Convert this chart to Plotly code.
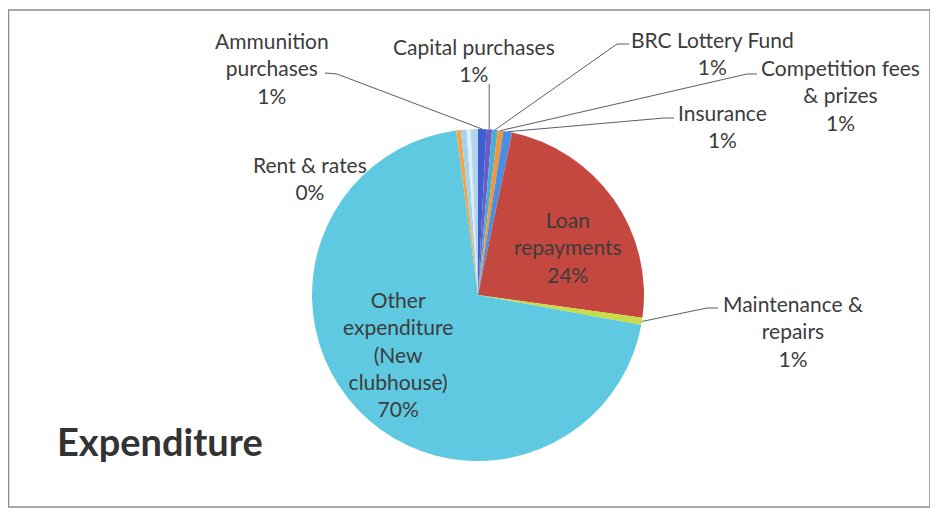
import math
import plotly.graph_objects as go

# ---------------- data ----------------
labels = [
    "Ammunition purchases", "Capital purchases", "BRC Lottery Fund",
    "Competition fees & prizes", "Insurance", "Loan repayments",
    "Maintenance & repairs", "Other expenditure (New clubhouse)",
    "Unlabelled item A", "Unlabelled item B", "Rent & rates", "Unlabelled item C",
]
values = [0.8, 0.55, 0.55, 0.55, 0.85, 23.9, 0.7, 70.0, 0.45, 0.55, 0.4, 0.7]
pct_text = ["1%", "1%", "1%", "1%", "1%", "24%", "1%", "70%", "", "", "0%", ""]
colors = [
    "#3f5fcf", "#6d5cc8", "#4aaed0", "#f2963c", "#4a8ee2", "#c4483f",
    "#c8dc48", "#5ec9e1", "#f4a448", "#9fd4ee", "#e2ecf4", "#b2d4ef",
]

# ---------------- layout helpers ----------------
# The page places the figure 8px in from the window's top-left corner,
# so the figure is sized to fill the rest of the 938x511 window.
OFF = 8
W, H = 938 - OFF, 511 - OFF
CX, CY, R = 478, 295, 166          # pie centre / radius in window pixels
FONT = "Lato"
TXT = "#3c3c3c"


def px(x):
    return (x - OFF) / W


def py(y):
    return 1 - (y - OFF) / H


total = sum(values)
cum = []
acc = 0.0
for v in values:
    cum.append(acc)
    acc += v


def edge_point(i):
    """Window-pixel point on the pie rim at the middle of slice i (clockwise from 12 o'clock)."""
    frac = (cum[i] + values[i] / 2) / total
    th = 2 * math.pi * frac
    return CX + R * math.sin(th), CY - R * math.cos(th)


fig = go.Figure()
fig.add_trace(go.Pie(
    labels=labels,
    values=values,
    sort=False,
    direction="clockwise",
    rotation=0,
    marker=dict(colors=colors, line=dict(width=0)),
    textinfo="none",
    hoverinfo="label+percent",
    showlegend=False,
    domain=dict(x=[px(CX - R), px(CX + R)], y=[py(CY + R), py(CY - R)]),
))

# label blocks: (slice index, lines, centre x, centre y of block)
label_blocks = [
    (0, ["Ammunition", "purchases", pct_text[0]], 272, 68),
    (1, ["Capital purchases", pct_text[1]], 474, 60),
    (2, ["BRC Lottery Fund", pct_text[2]], 712, 53),
    (3, ["Competition fees", "& prizes", pct_text[3]], 840, 95),
    (4, ["Insurance", pct_text[4]], 722, 126),
    (5, ["Loan", "repayments", pct_text[5]], 568, 247),
    (6, ["Maintenance &", "repairs", pct_text[6]], 793, 331),
    (7, ["Other", "expenditure", "(New", "clubhouse)", pct_text[7]], 398, 354),
    (10, ["Rent & rates", pct_text[10]], 310, 178),
]

annotations = []
for idx, lines, x, y in label_blocks:
    annotations.append(dict(
        x=px(x), y=py(y), xref="paper", yref="paper",
        text="<br>".join(lines), showarrow=False,
        xanchor="center", yanchor="middle", align="center",
        font=dict(family=FONT, size=21, color=TXT),
    ))

annotations.append(dict(
    x=px(55), y=py(441), xref="paper", yref="paper",
    text="<b>Expenditure</b>", showarrow=False,
    xanchor="left", yanchor="middle",
    font=dict(family=FONT, size=38, color="#333333"),
))

# leader lines: (slice index, start point, elbow point) in window pixels
leaders = [
    (0, (325, 73), (337, 74)),
    (1, None, None),
    (2, (629, 44), (617, 44)),
    (3, (757, 74), (747, 74)),
    (4, (674, 118), (664, 118)),
    (6, (718, 308), (707, 308)),
]

shapes = []
LINE = dict(color="#55606e", width=1)
for idx, p0, p1 in leaders:
    ex, ey = edge_point(idx)
    if p0 is None:
        path = f"M {px(ex)},{py(84)} L {px(ex)},{py(ey)}"
    else:
        path = (f"M {px(p0[0])},{py(p0[1])} L {px(p1[0])},{py(p1[1])} "
                f"L {px(ex)},{py(ey)}")
    shapes.append(dict(type="path", path=path, xref="paper", yref="paper", line=LINE))

# chart border
shapes.append(dict(type="rect", xref="paper", yref="paper",
                   x0=px(8.5), x1=px(930), y0=py(507), y1=py(10),
                   line=dict(color="#8c8c8c", width=1.5)))

fig.update_layout(
    width=W, height=H,
    margin=dict(l=0, r=0, t=0, b=0),
    paper_bgcolor="white",
    plot_bgcolor="white",
    annotations=annotations,
    shapes=shapes,
)

fig.write_html("out.html")
